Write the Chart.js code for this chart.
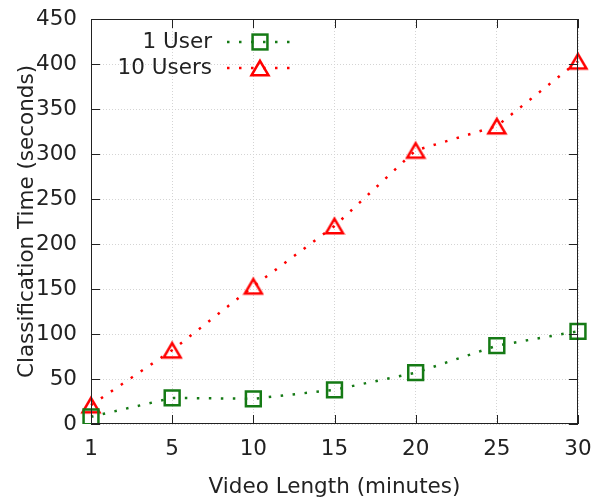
<!DOCTYPE html>
<html>
<head>
<meta charset="utf-8">
<script src="https://cdn.jsdelivr.net/npm/chart.js@4/dist/chart.umd.min.js"></script>
<style>
  html, body { margin: 0; padding: 0; background: #fff; }
  #wrap { width: 599px; height: 503px; }
</style>
</head>
<body>
<div id="wrap"><canvas id="timeChart" width="599" height="503"></canvas></div>
<script>
// values
var videoLengths = ['1', '5', '10', '15', '20', '25', '30'];
var oneUser = [8, 29, 28, 38, 57, 87, 103];
var tenUsers = [21, 82, 153, 220, 304, 331, 403];
var seriesNames = ['1 User', '10 Users'];

var FONT = 'DejaVu Sans';
var FSIZE = 21.5;
var GREEN = '#157a15';
var RED = '#ff0000';

// open triangle centred on its box, like gnuplot's pt 8
function makeTriangle(color) {
  var c = document.createElement('canvas');
  c.width = 22; c.height = 22;
  var g = c.getContext('2d');
  g.strokeStyle = color;
  g.lineWidth = 2.5;
  g.lineJoin = 'miter';
  g.beginPath();
  g.moveTo(11, 3.8);
  g.lineTo(19.5, 18.3);
  g.lineTo(2.5, 18.3);
  g.closePath();
  g.stroke();
  return c;
}
var redTriangle = makeTriangle(RED);

// gnuplot style frame with inward ticks on all four sides
var framePlugin = {
  id: 'frame',
  afterDraw: function(chart) {
    var ctx = chart.ctx, a = chart.chartArea;
    var xs = chart.scales.x, ys = chart.scales.y;
    ctx.save();
    ctx.strokeStyle = '#222';
    ctx.lineWidth = 1;
    ctx.strokeRect(a.left + 0.5, a.top + 0.5, a.right - a.left - 1, a.bottom - a.top - 1);
    ctx.beginPath();
    xs.ticks.forEach(function(t, i) {
      var x = Math.round(xs.getPixelForTick(i)) + 0.5;
      ctx.moveTo(x, a.bottom); ctx.lineTo(x, a.bottom - 9);
      ctx.moveTo(x, a.top); ctx.lineTo(x, a.top + 9);
    });
    ys.ticks.forEach(function(t, i) {
      var y = Math.round(ys.getPixelForTick(i)) + 0.5;
      ctx.moveTo(a.left, y); ctx.lineTo(a.left + 9, y);
      ctx.moveTo(a.right, y); ctx.lineTo(a.right - 9, y);
    });
    ctx.stroke();
    ctx.restore();
  }
};

// key drawn like gnuplot: label on the left, line sample with marker on the right
var keyPlugin = {
  id: 'key',
  afterDraw: function(chart) {
    var ctx = chart.ctx;
    ctx.save();
    chart.data.datasets.forEach(function(ds, i) {
      var y = 42 + i * 26;
      ctx.fillStyle = '#222';
      ctx.font = FSIZE + 'px "' + FONT + '"';
      ctx.textAlign = 'right';
      ctx.textBaseline = 'middle';
      ctx.fillText(ds.label, 212, y);
      ctx.strokeStyle = ds.borderColor;
      ctx.lineWidth = ds.borderWidth;
      ctx.setLineDash(ds.borderDash);
      ctx.beginPath();
      ctx.moveTo(227, y); ctx.lineTo(293, y);
      ctx.stroke();
      ctx.setLineDash([]);
      var cx = 260;
      if (ds.pointStyle === 'rect') {
        var s = Math.SQRT1_2 * ds.pointRadius;
        ctx.lineWidth = ds.pointBorderWidth;
        ctx.strokeRect(cx - s, y - s, 2 * s, 2 * s);
      } else {
        var img = ds.pointStyle;
        ctx.drawImage(img, cx - img.width / 2, y - img.height / 2);
      }
    });
    ctx.restore();
  }
};

var timeChart = new Chart(document.getElementById('timeChart'), {
  type: 'line',
  data: {
    labels: videoLengths,
    datasets: [
      {
        label: seriesNames[0],
        data: oneUser,
        borderColor: GREEN,
        backgroundColor: 'transparent',
        borderWidth: 2.5,
        borderDash: [2.5, 9.5],
        pointStyle: 'rect',
        pointRadius: 10.5,
        pointBorderWidth: 2.5,
        pointBorderColor: GREEN,
        pointBackgroundColor: 'transparent',
        tension: 0
      },
      {
        label: seriesNames[1],
        data: tenUsers,
        borderColor: RED,
        backgroundColor: 'transparent',
        borderWidth: 2.5,
        borderDash: [2.5, 9.5],
        pointStyle: redTriangle,
        pointRadius: 10,
        tension: 0
      }
    ]
  },
  options: {
    responsive: false,
    animation: false,
    layout: { padding: { left: 0, top: 19, right: 21, bottom: 0 } },
    plugins: {
      legend: { display: false },
      tooltip: { enabled: false }
    },
    scales: {
      x: {
        type: 'category',
        offset: false,
        afterFit: function(scale) {
          scale.height = 79;
          scale.paddingLeft = 0;
          scale.paddingRight = 0;
        },
        grid: { color: '#d4d4d4', drawTicks: false, lineWidth: 1 },
        border: { display: false, dash: [1, 2] },
        ticks: { color: '#222', padding: 13, font: { family: FONT, size: FSIZE } },
        title: {
          display: true,
          text: 'Video Length (minutes)',
          color: '#222',
          padding: { top: 0, bottom: 3 },
          font: { family: FONT, size: FSIZE }
        }
      },
      y: {
        min: 0,
        max: 450,
        afterFit: function(scale) {
          scale.width = 91;
          scale.paddingTop = 0;
          scale.paddingBottom = 0;
        },
        grid: { color: '#d4d4d4', drawTicks: false, lineWidth: 1 },
        border: { display: false, dash: [1, 2] },
        ticks: { stepSize: 50, color: '#222', padding: 14, font: { family: FONT, size: FSIZE } },
        title: {
          display: true,
          text: 'Classification Time (seconds)',
          color: '#222',
          padding: { top: 15, bottom: 0 },
          font: { family: FONT, size: FSIZE }
        }
      }
    }
  },
  plugins: [framePlugin, keyPlugin]
});
</script>
</body>
</html>
